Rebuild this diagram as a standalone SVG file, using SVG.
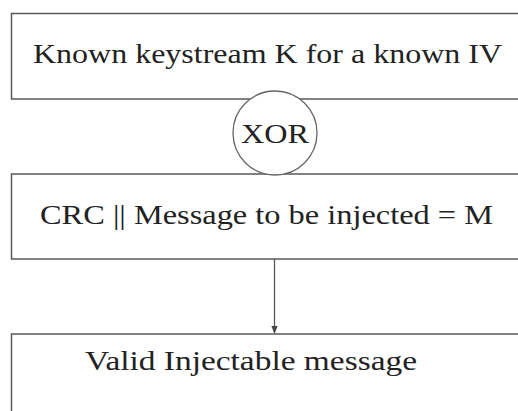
<svg xmlns="http://www.w3.org/2000/svg" width="518" height="411" viewBox="0 0 518 411">
<defs>
<style>
.box{fill:#fff;stroke:#5a5a5a;stroke-width:1.5}
.t{font-family:"Liberation Serif","Times New Roman",serif;font-size:27px;fill:#222}
.c{fill:none;stroke:#555;stroke-width:1.3}
</style>
<marker id="ah" viewBox="0 0 10 10" refX="9" refY="5" markerWidth="8" markerHeight="10" orient="auto" markerUnits="userSpaceOnUse">
<path d="M0,1 L10,5 L0,9 Z" fill="#444"/>
</marker>
</defs>
<rect width="518" height="411" fill="#fff"/>
<g id="connectors">
<line class="c" x1="274.5" y1="259" x2="274.5" y2="333" marker-end="url(#ah)"/>
</g>
<g id="node-keystream">
<rect class="box" x="11.5" y="13.5" width="520" height="85.5"/>
<text class="t" x="33" y="63" textLength="469" lengthAdjust="spacingAndGlyphs">Known keystream K for a known IV</text>
</g>
<g id="node-crc">
<rect class="box" x="11.5" y="174" width="520" height="85"/>
<text class="t" x="40" y="224" textLength="453" lengthAdjust="spacingAndGlyphs">CRC || Message to be injected = M</text>
</g>
<g id="node-xor">
<circle cx="275" cy="133" r="42" fill="#fff" stroke="#666" stroke-width="1.3"/>
<text class="t" x="275" y="143" text-anchor="middle" textLength="68" lengthAdjust="spacingAndGlyphs">XOR</text>
</g>
<g id="node-valid">
<rect class="box" x="11.5" y="334" width="520" height="90"/>
<text class="t" x="85" y="370" textLength="332" lengthAdjust="spacingAndGlyphs">Valid Injectable message</text>
</g>
</svg>
